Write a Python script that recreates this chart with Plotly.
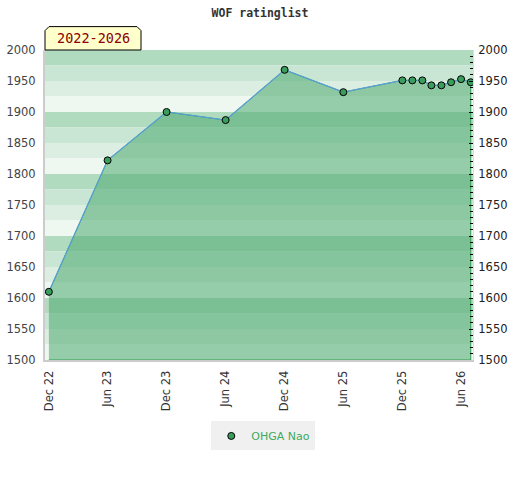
#!/usr/bin/env python3

# WOF ratinglist for one player, drawn as a filled area with a banded background.

import plotly.graph_objects as go

# Data
dates = [
    "2022-12-01", "2023-06-01", "2023-12-01", "2024-06-01", "2024-12-01",
    "2025-06-01", "2025-12-01", "2026-01-01", "2026-02-01", "2026-03-01",
    "2026-04-01", "2026-05-01", "2026-06-01", "2026-07-01",
]
ratings = [1610, 1822, 1900, 1887, 1968, 1932, 1951, 1951, 1951, 1943, 1943, 1948, 1953, 1948]
player = "OHGA Nao"
period = "2022-2026"
y_min, y_max = 1500, 2000

# background bands: four shades in every 100 points, dark at the top
band_colors = ["#b1dbbf", "#c8e6d3", "#dcede2", "#eff7f1"]
shapes = []
for block in range(y_min, y_max, 100):
    for i, col in enumerate(band_colors):
        top = block + 100 - 25 * i
        shapes.append(dict(type="rect", xref="paper", yref="y", x0=0, x1=1,
                           y0=top - 25, y1=top, fillcolor=col, line_width=0,
                           layer="below"))

# the little yellow tag above the plot, with cut top corners
w, h = 96 / 428, 23.4 / 310
dx, dy = 4 / 428, 4 / 310
shapes.append(dict(
    type="path", xref="paper", yref="paper",
    path=f"M 0,1 L 0,{1 + h - dy} L {dx},{1 + h} L {w - dx},{1 + h} L {w},{1 + h - dy} L {w},1 Z",
    fillcolor="#ffffcc", line=dict(color="black", width=1), layer="above",
))

fig = go.Figure()

# area under the rating curve
fig.add_trace(go.Scatter(
    x=dates + [dates[-1], dates[0]],
    y=ratings + [y_min, y_min],
    fill="toself", fillcolor="rgba(78,172,114,0.56)",
    mode="lines", line=dict(color="#2e9e4f", width=1),
    hoverinfo="skip", showlegend=False,
))
fig.add_trace(go.Scatter(
    x=dates, y=ratings, mode="lines",
    line=dict(color="#5aa0d8", width=1.2), showlegend=False,
))
fig.add_trace(go.Scatter(
    x=dates, y=ratings, mode="markers", name=player,
    marker=dict(color="#3a9d5d", size=7, line=dict(color="black", width=1)),
))
# dummy trace so the right axis is drawn
fig.add_trace(go.Scatter(x=[dates[0]], y=[y_min], yaxis="y2", mode="markers",
                         marker=dict(opacity=0), hoverinfo="skip", showlegend=False))

fig.update_layout(
    width=520, height=480,
    margin=dict(l=45, r=47, t=50, b=120, autoexpand=False),
    paper_bgcolor="white", plot_bgcolor="white",
    font=dict(family="DejaVu Sans", size=11, color="#333"),
    title=dict(text="WOF ratinglist", x=0.5, xanchor="center", y=0.973, yanchor="middle",
               font=dict(family="DejaVu Sans Mono", size=11.5, color="#333", weight="bold")),
    shapes=shapes,
    annotations=[dict(text=period, xref="paper", yref="paper", x=w / 2, y=1 + h / 2,
                      showarrow=False, xanchor="center", yanchor="middle",
                      font=dict(family="DejaVu Sans Mono", size=13.5, color="#8b0000"))],
    xaxis=dict(type="date", range=["2022-11-19", "2026-07-08"],
               tick0="2022-12-01", dtick="M6", tickformat="%b %y", tickangle=-90,
               showgrid=False, zeroline=False, showline=True, linecolor="#cccccc",
               linewidth=2, ticks="", automargin=False, ticklabelstandoff=4,
               tickfont=dict(size=11.5)),
    yaxis=dict(range=[y_min, y_max], dtick=50, showgrid=False, zeroline=False,
               showline=True, linecolor="#cccccc", linewidth=2, ticks="",
               tickfont=dict(color="#444", size=11.5), automargin=False,
               ticklabelstandoff=5),
    yaxis2=dict(range=[y_min, y_max], dtick=50, overlaying="y", side="right",
                showgrid=False, zeroline=False, showline=True, linecolor="#dddddd",
                ticks="inside", ticklen=4, tickcolor="black",
                minor=dict(dtick=10, ticks="inside", ticklen=3, tickcolor="black"),
                tickfont=dict(color="#222", size=11.5), automargin=False,
                ticklabelstandoff=2),
    legend=dict(orientation="h", x=0.51, xanchor="center", y=-0.245, yanchor="middle",
                bgcolor="#f0f0f0", font=dict(color="#3daa60", size=11),
                itemwidth=30, tracegroupgap=0),
)

# drop the browser's default 8px body margin so the figure sits at the page corner
fig.write_html("out.html", config={"displayModeBar": False},
               post_script="document.body.style.margin = '0px';")
